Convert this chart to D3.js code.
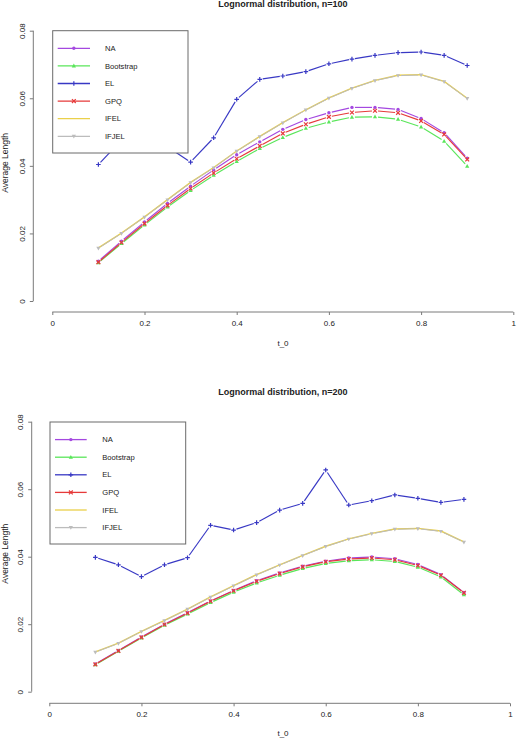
<!DOCTYPE html>
<html>
<head>
<meta charset="utf-8">
<script src="https://cdn.jsdelivr.net/npm/d3@7"></script>
<style>
  html, body { margin: 0; padding: 0; background: #fff; }
  svg { display: block; font-family: "Liberation Sans", Arial, Helvetica, sans-serif; }
</style>
</head>
<body>
<svg id="chart" width="530" height="738"></svg>
<script>
// ---------- data ----------
const tValues = [0.1, 0.15, 0.2, 0.25, 0.3, 0.35, 0.4, 0.45, 0.5, 0.55, 0.6, 0.65, 0.7, 0.75, 0.8, 0.85, 0.9];
const seriesNames = ["NA", "Bootstrap", "EL", "GPQ", "IFEL", "IFJEL"];
const xTicks = [0, 0.2, 0.4, 0.6, 0.8, 1];
const yTicks = [0, 0.02, 0.04, 0.06, 0.08];
const titles = ["Lognormal distribution, n=100", "Lognormal distribution, n=200"];
const xLabel = "t_0";
const yLabel = "Average Length";

// n = 100
const NA100    = [0.0118, 0.0177, 0.0234, 0.0289, 0.0340, 0.0388, 0.0433, 0.0471, 0.0508, 0.0537, 0.0557, 0.0573, 0.0573, 0.0567, 0.0540, 0.0498, 0.0423];
const Boot100  = [0.0113, 0.0170, 0.0225, 0.0278, 0.0327, 0.0372, 0.0413, 0.0451, 0.0484, 0.0511, 0.0530, 0.0544, 0.0545, 0.0538, 0.0515, 0.0473, 0.0399];
const EL100    = [0.0404, 0.0476, 0.0522, 0.0456, 0.0411, 0.0483, 0.0597, 0.0656, 0.0666, 0.0679, 0.0702, 0.0716, 0.0727, 0.0735, 0.0737, 0.0727, 0.0697];
const GPQ100   = [0.0115, 0.0173, 0.0229, 0.0283, 0.0333, 0.0379, 0.0421, 0.0459, 0.0496, 0.0523, 0.0545, 0.0558, 0.0563, 0.0557, 0.0533, 0.0493, 0.0419];
const IFEL100  = [0.0157, 0.0201, 0.0249, 0.0300, 0.0351, 0.0395, 0.0444, 0.0487, 0.0528, 0.0566, 0.0601, 0.0630, 0.0653, 0.0668, 0.0670, 0.0650, 0.0600];
const IFJEL100 = [0.0156, 0.0200, 0.0248, 0.0299, 0.0350, 0.0394, 0.0443, 0.0486, 0.0527, 0.0565, 0.0600, 0.0629, 0.0652, 0.0667, 0.0669, 0.0649, 0.0599];

// n = 200
const NA200    = [0.0082, 0.0122, 0.0162, 0.0200, 0.0234, 0.0269, 0.0300, 0.0329, 0.0352, 0.0372, 0.0387, 0.0396, 0.0399, 0.0394, 0.0377, 0.0347, 0.0294];
const Boot200  = [0.0080, 0.0120, 0.0159, 0.0197, 0.0230, 0.0264, 0.0295, 0.0322, 0.0345, 0.0365, 0.0380, 0.0388, 0.0391, 0.0386, 0.0369, 0.0340, 0.0287];
const EL200    = [0.0398, 0.0376, 0.0341, 0.0376, 0.0397, 0.0493, 0.0479, 0.0501, 0.0538, 0.0558, 0.0657, 0.0553, 0.0566, 0.0583, 0.0573, 0.0561, 0.0570];
const GPQ200   = [0.0081, 0.0121, 0.0161, 0.0199, 0.0233, 0.0268, 0.0299, 0.0327, 0.0350, 0.0370, 0.0385, 0.0393, 0.0396, 0.0391, 0.0374, 0.0345, 0.0293];
const IFEL200  = [0.0118, 0.0144, 0.0179, 0.0211, 0.0245, 0.0281, 0.0314, 0.0347, 0.0376, 0.0404, 0.0431, 0.0453, 0.0469, 0.0482, 0.0484, 0.0476, 0.0444];
const IFJEL200 = [0.0117, 0.0143, 0.0178, 0.0210, 0.0244, 0.0280, 0.0313, 0.0346, 0.0375, 0.0403, 0.0430, 0.0452, 0.0468, 0.0481, 0.0483, 0.0475, 0.0443];

// ---------- styles ----------
const styles = {
  "NA":        { color: "#a448e0", marker: "circle" },
  "Bootstrap": { color: "#5ae65a", marker: "triangle" },
  "EL":        { color: "#3838c4", marker: "plus" },
  "GPQ":       { color: "#e63a3a", marker: "cross" },
  "IFEL":      { color: "#ead04a", marker: null },
  "IFJEL":     { color: "#bcbcbc", marker: "triangleDown" }
};

const panels = [
  { values: [NA100, Boot100, EL100, GPQ100, IFEL100, IFJEL100], title: titles[0],
    xL: 52.3, xR: 513.3, xAxisY: 312, y0: 301, y8: 30.7, yAxisX: 33.3,
    titleY: 6.5, xlabY: 346, legend: { x: 52.7, y: 30.7, w: 135.3, h: 122.3, lineX0: 57.7, lineX1: 90, textX: 105 } },
  { values: [NA200, Boot200, EL200, GPQ200, IFEL200, IFJEL200], title: titles[1],
    xL: 49.3, xR: 510, xAxisY: 703.3, y0: 691.7, y8: 421.7, yAxisX: 31.7,
    titleY: 395, xlabY: 736, legend: { x: 50, y: 422, w: 135.7, h: 122, lineX0: 55, lineX1: 86.7, textX: 102.3 } }
];

const svg = d3.select("#chart");
const textColor = "#222";
const axisColor = "#7a7a7a";
const lw = 1.15;

function drawMarker(g, type, cx, cy, color) {
  const s = 1.9;
  if (type === "circle") {
    g.append("circle").attr("cx", cx).attr("cy", cy).attr("r", 1.7).attr("fill", color);
  } else if (type === "triangle") {
    g.append("path").attr("d", `M${cx},${cy - 2.3}L${cx + 2.1},${cy + 1.5}L${cx - 2.1},${cy + 1.5}Z`).attr("fill", color);
  } else if (type === "triangleDown") {
    g.append("path").attr("d", `M${cx},${cy + 2.2}L${cx + 2.1},${cy - 1.5}L${cx - 2.1},${cy - 1.5}Z`).attr("fill", color);
  } else if (type === "plus") {
    g.append("path").attr("d", `M${cx - 2.3},${cy}H${cx + 2.3}M${cx},${cy - 2.3}V${cy + 2.3}`)
      .attr("stroke", color).attr("stroke-width", 1.2).attr("fill", "none");
  } else if (type === "cross") {
    g.append("path").attr("d", `M${cx - s},${cy - s}L${cx + s},${cy + s}M${cx - s},${cy + s}L${cx + s},${cy - s}`)
      .attr("stroke", color).attr("stroke-width", 1.2).attr("fill", "none");
  }
}

panels.forEach(p => {
  const x = d3.scaleLinear().domain([0, 1]).range([p.xL, p.xR]);
  const y = d3.scaleLinear().domain([0, 0.08]).range([p.y0, p.y8]);
  const g = svg.append("g");

  // title
  g.append("text").attr("x", 283).attr("y", p.titleY).attr("text-anchor", "middle")
    .attr("font-size", 9).attr("font-weight", "bold").attr("fill", textColor).text(p.title);

  // x axis
  const xAxis = d3.axisBottom(x).tickValues(xTicks).tickFormat(d3.format("~g")).tickSize(3).tickPadding(5);
  const gx = g.append("g").attr("transform", `translate(0,${p.xAxisY})`).call(xAxis);
  gx.select(".domain").attr("stroke", axisColor).attr("d", `M${p.xL},0H${p.xR}`);
  gx.selectAll(".tick line").attr("stroke", axisColor);
  gx.selectAll(".tick text").attr("font-size", 8).attr("fill", textColor).attr("font-family", "Liberation Sans, Arial, sans-serif");

  // y axis
  const yAxis = d3.axisLeft(y).tickValues(yTicks).tickFormat(d3.format("~g")).tickSize(3.5).tickPadding(0);
  const gy = g.append("g").attr("transform", `translate(${p.yAxisX},0)`).call(yAxis);
  gy.select(".domain").attr("stroke", axisColor).attr("d", `M0,${p.y0}V${p.y8}`);
  gy.selectAll(".tick line").attr("stroke", axisColor);
  gy.selectAll(".tick text")
    .attr("font-size", 8).attr("fill", textColor).attr("font-family", "Liberation Sans, Arial, sans-serif")
    .attr("x", null)
    .attr("text-anchor", "middle")
    .attr("transform", "translate(-11.5,0) rotate(-90)")
    .attr("dy", "0.35em");

  // axis labels
  g.append("text").attr("x", 283).attr("y", p.xlabY).attr("text-anchor", "middle")
    .attr("font-size", 8).attr("fill", textColor).text(xLabel);
  const ymid = (p.y0 + p.y8) / 2 - 3;
  g.append("text").attr("transform", `translate(7.5,${ymid}) rotate(-90)`).attr("text-anchor", "middle")
    .attr("font-size", 8.5).attr("fill", textColor).text(yLabel);

  // series (type "b": lines broken around the points)
  const gap = 3;
  seriesNames.forEach((name, si) => {
    const st = styles[name];
    const vals = p.values[si];
    const pts = tValues.map((t, i) => [x(t), y(vals[i])]);
    const sg = g.append("g");
    if (!st.marker) {
      sg.append("path").attr("d", d3.line()(pts)).attr("fill", "none")
        .attr("stroke", st.color).attr("stroke-width", 1.4);
    } else {
      for (let i = 0; i < pts.length - 1; i++) {
        const [x1, y1] = pts[i], [x2, y2] = pts[i + 1];
        const dx = x2 - x1, dy = y2 - y1, len = Math.hypot(dx, dy);
        if (len <= 2 * gap) continue;
        const ux = dx / len, uy = dy / len;
        sg.append("line")
          .attr("x1", x1 + ux * gap).attr("y1", y1 + uy * gap)
          .attr("x2", x2 - ux * gap).attr("y2", y2 - uy * gap)
          .attr("stroke", st.color).attr("stroke-width", name === "IFJEL" ? 1 : lw);
      }
      pts.forEach(([cx, cy]) => drawMarker(sg, st.marker, cx, cy, st.color));
    }
  });

  // legend
  const L = p.legend;
  const lg = g.append("g");
  lg.append("rect").attr("x", L.x).attr("y", L.y).attr("width", L.w).attr("height", L.h)
    .attr("fill", "#fff").attr("stroke", "#6a6a6a").attr("stroke-width", 1);
  seriesNames.forEach((name, i) => {
    const st = styles[name];
    const cy = L.y + 17.6 + i * 17.6;
    lg.append("line").attr("x1", L.lineX0).attr("x2", L.lineX1).attr("y1", cy).attr("y2", cy)
      .attr("stroke", st.color).attr("stroke-width", 1.3);
    if (st.marker) drawMarker(lg, st.marker, (L.lineX0 + L.lineX1) / 2, cy, st.color);
    lg.append("text").attr("x", L.textX).attr("y", cy).attr("dy", "0.35em")
      .attr("font-size", 7.6).attr("fill", textColor).text(name);
  });
});
</script>
</body>
</html>
